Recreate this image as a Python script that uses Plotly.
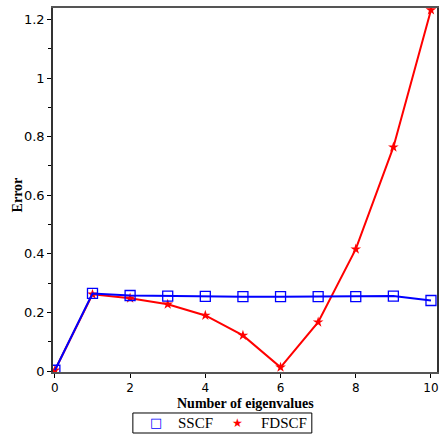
import plotly.graph_objects as go

# Error versus number of eigenvalues for the two methods
n_eig = [0, 1, 2, 3, 4, 5, 6, 7, 8, 9, 10]
sscf = [0.003, 0.265, 0.258, 0.256, 0.255, 0.254, 0.254, 0.254, 0.254, 0.256, 0.241]
fdscf = [0.003, 0.262, 0.249, 0.228, 0.190, 0.122, 0.013, 0.167, 0.416, 0.764, 1.232]

x_ticks = [0, 2, 4, 6, 8, 10]
y_ticks = [0, 0.2, 0.4, 0.6, 0.8, 1.0, 1.2]
y_tick_text = ["0", "0.2", "0.4", "0.6", "0.8", "1", "1.2"]

x_title = "Number of eigenvalues"
y_title = "Error"
series_names = ["SSCF", "FDSCF"]

BLUE = "#0000ff"
RED = "#ff0000"
TITLE_FONT = dict(family="Liberation Serif", size=14, color="black")
KEY_FONT = dict(family="Liberation Serif", size=15, color="black")

fig = go.Figure()

fig.add_trace(go.Scatter(
    x=n_eig, y=fdscf, mode="lines+markers", name=series_names[1], showlegend=False,
    line=dict(color=RED, width=2),
    marker=dict(symbol="star", size=8, color=RED),
))
fig.add_trace(go.Scatter(
    x=n_eig, y=sscf, mode="lines+markers", name=series_names[0], showlegend=False,
    line=dict(color=BLUE, width=2),
    marker=dict(symbol="square-open", size=10, color=BLUE, line=dict(width=1.3)),
))

# axis titles
fig.add_annotation(text=f"<b>{x_title}</b>", xref="paper", yref="paper",
                   x=0.5, y=-0.087, xanchor="center", yanchor="middle",
                   showarrow=False, font=TITLE_FONT)
fig.add_annotation(text=f"<b>{y_title}</b>", xref="paper", yref="paper",
                   x=-0.092, y=0.487, xanchor="center", yanchor="middle",
                   textangle=-90, showarrow=False, font=TITLE_FONT)

# boxed key below the axes: symbol glyphs and names
fig.add_shape(type="rect", xref="paper", yref="paper",
              x0=0.208, x1=0.674, y0=-0.1676, y1=-0.1126,
              line=dict(color="black", width=1), fillcolor="white")
fig.add_annotation(text="□", xref="paper", yref="paper", x=0.269, y=-0.139,
                   xanchor="center", yanchor="middle", showarrow=False,
                   font=dict(family="DejaVu Sans", size=13, color=BLUE))
fig.add_annotation(text=series_names[0], xref="paper", yref="paper", x=0.372, y=-0.140,
                   xanchor="center", yanchor="middle", showarrow=False, font=KEY_FONT)
fig.add_annotation(text="★", xref="paper", yref="paper", x=0.481, y=-0.139,
                   xanchor="center", yanchor="middle", showarrow=False,
                   font=dict(family="DejaVu Sans", size=12, color=RED))
fig.add_annotation(text=series_names[1], xref="paper", yref="paper", x=0.602, y=-0.140,
                   xanchor="center", yanchor="middle", showarrow=False, font=KEY_FONT)

fig.update_layout(
    width=440, height=438,
    margin=dict(l=53, r=3, t=8, b=66, autoexpand=False),
    paper_bgcolor="white", plot_bgcolor="white",
    font=dict(family="DejaVu Sans", size=13, color="black"),
    showlegend=False,
    xaxis=dict(
        range=[-0.05, 10.16], tickvals=x_ticks,
        showgrid=False, zeroline=False,
        showline=True, linecolor="#555555", linewidth=2, mirror=True,
        ticks="outside", ticklen=4, tickcolor="black", tickwidth=1,
        tickfont=dict(family="DejaVu Sans", size=12, color="black"),
    ),
    yaxis=dict(
        range=[-0.003, 1.239], tickvals=y_ticks, ticktext=y_tick_text,
        showgrid=False, zeroline=False,
        showline=True, linecolor="#333333", linewidth=1.5, mirror=True,
        ticks="outside", ticklen=4, tickcolor="black", tickwidth=1,
        minor=dict(dtick=0.1, ticks="outside", ticklen=3, tickcolor="black", showgrid=False),
        tickfont=dict(family="DejaVu Sans", size=13, color="black"),
    ),
)

fig.write_html("out.html")
